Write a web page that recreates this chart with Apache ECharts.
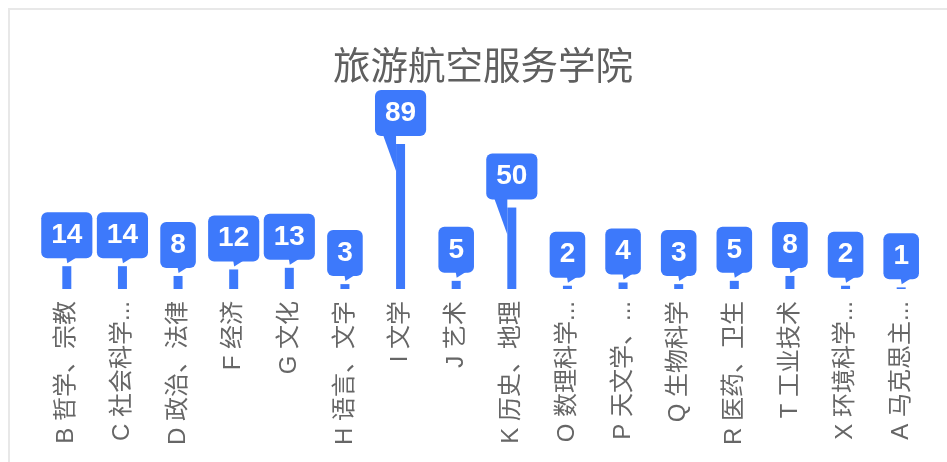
<!DOCTYPE html>
<html>
<head>
<meta charset="utf-8">
<script src="https://cdn.jsdelivr.net/npm/echarts@6/dist/echarts.min.js"></script>
<style>
  html, body { margin: 0; padding: 0; background: #fff; }
  #box { position: absolute; left: 8px; top: 8px; width: 946px; height: 470px; border: 2px solid #e8e8e8; }
  #chart { width: 946px; height: 470px; }
</style>
</head>
<body>
<div id="box"><div id="chart"></div></div>
<script>
const titleText = '旅游航空服务学院';
const categories = [
  'B 哲学、宗教', 'C 社会科学总论', 'D 政治、法律', 'F 经济', 'G 文化',
  'H 语言、文字', 'I 文学', 'J 艺术', 'K 历史、地理', 'O 数理科学和化学',
  'P 天文学、地球科学', 'Q 生物科学', 'R 医药、卫生', 'T 工业技术',
  'X 环境科学、安全科学', 'A 马克思主义、列宁主义、毛泽东思想、邓小平理论'
];
const values = [14, 14, 8, 12, 13, 3, 89, 5, 50, 2, 4, 3, 5, 8, 2, 1];

const BLUE = '#3d79fb';
const chart = echarts.init(document.getElementById('chart'), null, { renderer: 'canvas' });

const option = {
  animation: false,
  title: {
    text: titleText,
    left: 'center',
    top: 31,
    textStyle: { fontSize: 37.5, fontWeight: 'normal', color: '#5f5f5f', fontFamily: 'Noto Sans CJK SC' }
  },
  grid: { left: 29, right: 27, top: 134, height: 145 },
  xAxis: {
    type: 'category',
    data: categories,
    axisLine: { show: false },
    axisTick: { show: false },
    axisLabel: {
      interval: 0,
      rotate: 90,
      margin: 12,
      fontSize: 24,
      color: '#666',
      fontFamily: 'Liberation Sans, Noto Sans CJK SC',
      overflow: 'truncate',
      width: 150,
      ellipsis: '...'
    }
  },
  yAxis: {
    type: 'value',
    min: 0,
    max: 'dataMax',
    show: false,
    splitLine: { show: false }
  },
  series: [
    {
      type: 'custom',
      silent: true,
      clip: false,
      z: 1,
      data: values.map((v, i) => [i, v]),
      renderItem: function (params, api) {
        const idx = api.value(0);
        const v = api.value(1);
        const top = api.coord([idx, v]);
        const base = api.coord([idx, 0]);
        const cx = top[0];
        const boxBottom = top[1] - 8;
        let pts;
        if (base[1] - top[1] > 40) {
          pts = [[cx - 17.5, boxBottom - 1], [cx - 4.5, boxBottom - 1], [cx - 4.5, boxBottom + 35]];
        } else {
          pts = [[cx - 0.5, boxBottom - 1], [cx + 10, boxBottom - 1], [cx + 0.5, boxBottom + 5]];
        }
        return { type: 'polygon', shape: { points: pts }, style: { fill: BLUE } };
      }
    },
    {
      type: 'bar',
      data: values,
      barWidth: 9,
      z: 2,
      itemStyle: { color: BLUE },
      label: {
        show: true,
        position: 'top',
        distance: 8,
        backgroundColor: BLUE,
        borderRadius: 6,
        padding: [9, 10, 9, 10],
        fontSize: 28,
        lineHeight: 28,
        fontWeight: 'bold',
        color: '#fff',
        fontFamily: 'Liberation Sans, Arial, sans-serif'
      }
    }
  ]
};
chart.setOption(option);
</script>
</body>
</html>
